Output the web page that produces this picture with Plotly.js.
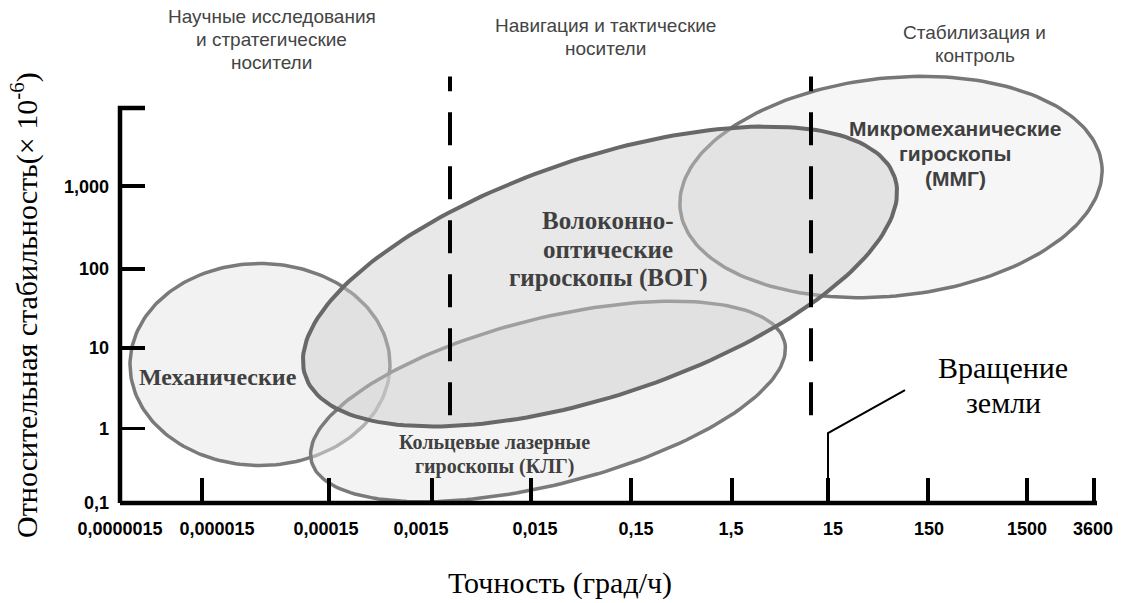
<!DOCTYPE html>
<html><head><meta charset="utf-8">
<script src="https://cdn.plot.ly/plotly-3.0.1.min.js"></script>
<style>html,body{margin:0;padding:0;background:#fff}</style>
</head><body>
<div id="chart" style="width:1127px;height:603px"></div>
<script>
// ---- X axis: accuracy (deg/h), tick labels and positions on the drawn scale
const xTickLabels = ['0,0000015','0,000015','0,00015','0,0015','0,015','0,15','1,5','15','150','1500','3600'];
const xTickPos   = [0, 0.82, 2.09, 3.12, 4.11, 5.11, 6.12, 7.08, 8.08, 9.07, 9.74];
const xLabelPos  = [0, 0.97, 2.06, 3.01, 4.15, 5.16, 6.11, 7.13, 8.09, 9.07, 9.73];

// ---- Y axis: relative stability (x10^-6), in decades
const yTickLabels = ['0,1','1','10','100','1,000'];
const yTickPos    = [-1, -0.06, 0.96, 1.96, 3.01];
const yAxisTop    = 4.0;   // unlabelled end tick of the y axis

// ---- Application zones
const zoneNames  = ['Научные исследования<br>и стратегические<br>носители',
                    'Навигация и тактические<br>носители',
                    'Стабилизация и<br>контроль'];
const zoneBounds = [3.30, 6.91];
const boundaryY  = [0.11, 4.40];

// ---- Gyroscope technology regions (centre, semi-axes in x units, tilt in degrees)
const gyroNames = ['Механические',
                   'Микромеханические<br>гироскопы<br>(ММГ)',
                   'Кольцевые лазерные<br>гироскопы (КЛГ)',
                   'Волоконно-<br>оптические<br>гироскопы (ВОГ)'];
const gyroCx   = [1.40, 7.71, 4.28, 4.80];
const gyroCy   = [0.753, 3.00, 0.285, 1.867];
const gyroA    = [1.30, 2.12, 2.44, 3.11];
const gyroB    = [1.01, 1.09, 0.83, 1.185];
const gyroTilt = [0, 6, 14.2, 18.65];
const gyroLabelX = [0.98, 8.35, 3.74, 4.88];
const gyroLabelY = [0.595, 3.43, -0.392, 2.215];

// ---- Earth rotation rate marker (15 deg/h)
const earthLabel = 'Вращение<br>земли';
const earthX = [7.08, 7.08, 7.85];
const earthY = [-1, -0.114, 0.43];

// ---- layout geometry
const W = 1127, H = 603, M = {l:120, r:17, t:70, b:100};
const xRange = [0, 9.90], yRange = [-1, 4.481];
const plotW = W - M.l - M.r, plotH = H - M.t - M.b;
const pxX = plotW / (xRange[1] - xRange[0]);
const pxY = plotH / (yRange[1] - yRange[0]);
const TICKLEN = 25;

function ellipse(i) {
  const th = gyroTilt[i] * Math.PI / 180, xs = [], ys = [];
  for (let k = 0; k <= 200; k++) {
    const t = 2 * Math.PI * k / 200;
    const u = gyroA[i] * Math.cos(t), v = gyroB[i] * Math.sin(t);
    const dx = u * Math.cos(th) - v * Math.sin(th);
    const dy = u * Math.sin(th) + v * Math.cos(th);
    xs.push(gyroCx[i] + dx);
    ys.push(gyroCy[i] + dy * pxX / pxY);
  }
  return {xs, ys};
}

const fills  = ['#f2f2f2', '#f6f6f6', 'rgba(232,232,232,0.5)', 'rgba(205,205,205,0.45)'];
const lines  = ['#7a7a7a', '#777777', '#7a7a7a', '#686868'];
const lwidth = [3.5, 3.5, 3.5, 4];

const SERIF = 'Liberation Serif, Times New Roman, serif';
const SANS  = 'Liberation Sans, Arial, sans-serif';

const traces = gyroNames.map((n, i) => {
  const e = ellipse(i);
  return {x: e.xs, y: e.ys, type: 'scatter', mode: 'lines', fill: 'toself',
          fillcolor: fills[i], line: {color: lines[i], width: lwidth[i]},
          hoverinfo: 'skip', showlegend: false};
});
traces.push({x: earthX, y: earthY, type: 'scatter', mode: 'lines',
             line: {color: '#000', width: 2}, hoverinfo: 'skip', showlegend: false});
traces.push({x: [xRange[0]], y: [yRange[0]], xaxis: 'x2', type: 'scatter', mode: 'none',
             hoverinfo: 'skip', showlegend: false});

const annotations = [];
// multi-line text placed line by line so the line spacing matches the reference
function addText(text, x, y, xref, yref, font, spacingPx) {
  const parts = text.split('<br>'), n = parts.length;
  const unit = yref === 'paper' ? 1 / plotH : 1 / pxY;
  parts.forEach((p, k) => annotations.push({
    text: p, x: x, y: y - (k - (n - 1) / 2) * spacingPx * unit, xref: xref, yref: yref,
    showarrow: false, xanchor: 'center', yanchor: 'middle', font: font
  }));
}

const labelFonts = [
  {family: SERIF, size: 24, color: '#404040', weight: 'bold'},
  {family: SANS,  size: 21, color: '#404040', weight: 'bold'},
  {family: SERIF, size: 20, color: '#404040', weight: 'bold'},
  {family: SERIF, size: 25, color: '#404040', weight: 'bold'}
];
const labelSpacing = [28, 25, 24, 29];
gyroNames.forEach((n, i) => addText(n, gyroLabelX[i], gyroLabelY[i], 'x', 'y', labelFonts[i], labelSpacing[i]));

const zoneX = [0.1535, 0.4909, 0.8636], zoneY = [1.0704, 1.0751, 1.0589];
zoneNames.forEach((z, i) => addText(z, zoneX[i], zoneY[i], 'paper', 'paper',
  {family: SANS, size: 19, color: '#444'}, 23));

addText(earthLabel, 8.83, 0.5, 'x', 'y', {family: SERIF, size: 30, color: '#000'}, 35);

annotations.push({text: 'Точность (град/ч)', x: 0.4444, y: -0.1848, xref: 'paper', yref: 'paper',
  showarrow: false, xanchor: 'center', yanchor: 'middle', font: {family: SERIF, size: 30, color: '#000'}});
annotations.push({text: 'Относительная стабильность(× 10<sup>-6</sup>)', x: -0.0960, y: 0.4573,
  xref: 'paper', yref: 'paper', showarrow: false, textangle: -90,
  xanchor: 'center', yanchor: 'middle', font: {family: SERIF, size: 30, color: '#000'}});

const shapes = zoneBounds.map(b => ({
  type: 'line', xref: 'x', yref: 'y', x0: b, x1: b, y0: boundaryY[0], y1: boundaryY[1],
  line: {color: '#000', width: 4, dash: '33px,21px'}
}));
// x axis line
shapes.push({type: 'line', xref: 'x', yref: 'paper', x0: xRange[0], x1: xTickPos[xTickPos.length-1] + 0.03,
  y0: 0, y1: 0, line: {color: '#000', width: 4.5}});
// y axis line ending in its top tick
const tickPaper = TICKLEN / plotW;
shapes.push({type: 'path', xref: 'paper', yref: 'y',
  path: `M ${tickPaper},${yAxisTop} L 0,${yAxisTop} L 0,${yRange[0]}`,
  line: {color: '#000', width: 4.5}});

const layout = {
  width: W, height: H, margin: M, paper_bgcolor: '#fff', plot_bgcolor: '#fff',
  font: {family: SANS, color: '#000'}, showlegend: false, hovermode: false,
  xaxis: {range: xRange, showgrid: false, zeroline: false, showline: false,
          ticks: 'inside', ticklen: TICKLEN, tickwidth: 3.5, tickcolor: '#000',
          tickmode: 'array', tickvals: xTickPos, showticklabels: false, fixedrange: true},
  xaxis2: {range: xRange, overlaying: 'x', anchor: 'y', side: 'bottom', showgrid: false,
           zeroline: false, showline: false, ticks: '', tickmode: 'array',
           tickvals: xLabelPos, ticktext: xTickLabels, ticklabelstandoff: 13,
           tickfont: {family: SANS, size: 18, color: '#000', weight: 'bold'}, fixedrange: true},
  yaxis: {range: yRange, showgrid: false, zeroline: false, showline: false,
          ticks: 'inside', ticklen: TICKLEN, tickwidth: 3.5, tickcolor: '#000',
          tickmode: 'array', tickvals: yTickPos, ticktext: yTickLabels, ticklabelstandoff: 10,
          tickfont: {family: SANS, size: 18, color: '#000', weight: 'bold'}, fixedrange: true},
  shapes: shapes, annotations: annotations
};

Plotly.newPlot('chart', traces, layout, {displayModeBar: false, staticPlot: true});
</script>
</body></html>
